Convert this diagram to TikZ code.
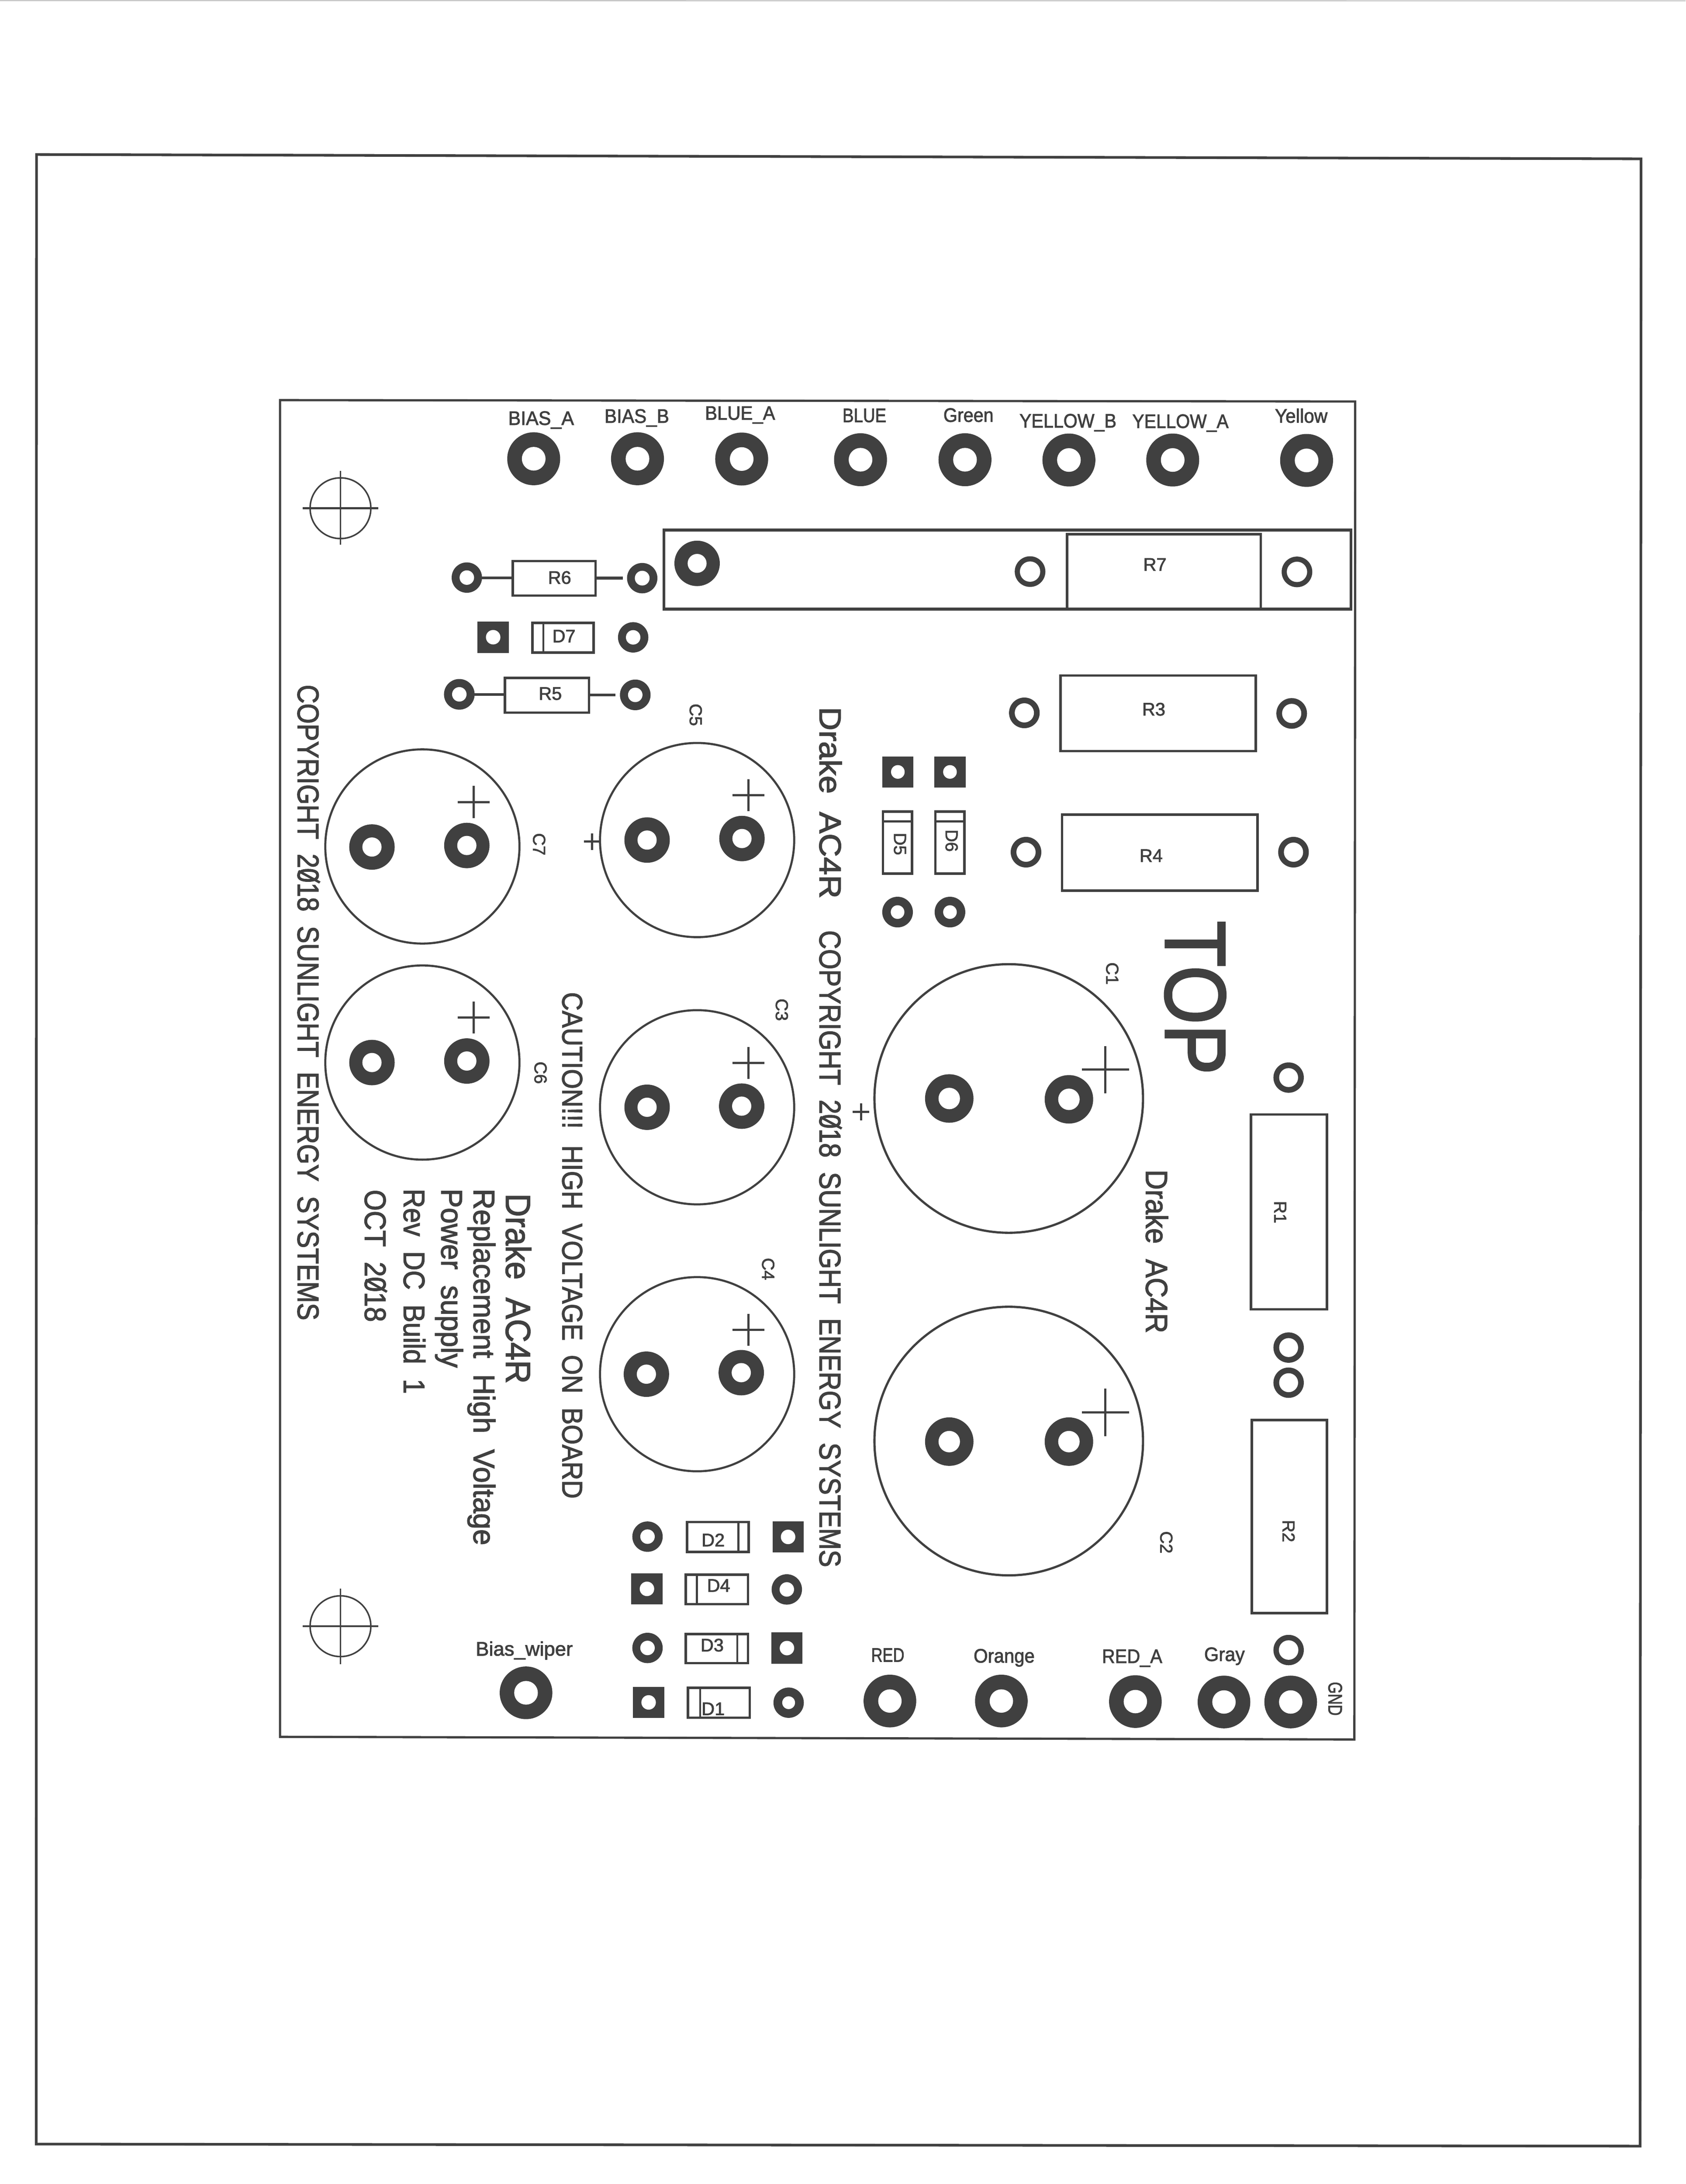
\documentclass[tikz,border=0pt]{standalone}
\usepackage{fontspec}
\usepackage{graphicx}
\setmainfont[WordSpace=2,BoldFont={Liberation Sans},BoldFeatures={FakeBold=2.2}]{Liberation Sans}
\definecolor{ink}{HTML}{404040}
\tikzset{
  lab/.style={inner sep=0pt,outer sep=0pt,text=ink},
  outline/.style={draw=ink,line width=1.8pt},
  thinline/.style={draw=ink,line width=1.4pt},
  lead/.style={draw=ink,line width=2pt}
}
% round pad: name, x, y, outer r, hole r
\newcommand{\padr}[5]{\coordinate (#1) at (#2,#3);
  \fill[ink] (#1) circle (#4pt);
  \fill[white] (#1) circle (#5pt);}
% square pad: name, x, y, hole r
\newcommand{\pads}[4]{\coordinate (#1) at (#2,#3);
  \fill[ink] ($(#1)+(-11.2,-11.2)$) rectangle ($(#1)+(11.2,11.2)$);
  \fill[white] (#1) circle (#4pt);}
% horizontal label: name, x1, x2, baseline y, size, text
\newcommand{\hlab}[6]{\pgfmathsetmacro\LL{#3-#2}%
  \node[lab,anchor=base west] (#1) at (#2,#4) {\fontsize{#5}{#5}\selectfont\bfseries\resizebox{\LL pt}{\height}{#6}};}
% vertical label reading downward: name, baseline x, y1, y2, size, text
\newcommand{\vlab}[6]{\pgfmathsetmacro\LL{#4-#3}%
  \node[lab,anchor=base west,rotate=-90] (#1) at (#2,#3) {\fontsize{#5}{#5}\selectfont\bfseries\resizebox{\LL pt}{\height}{#6}};}
% centred small labels
\newcommand{\clab}[4]{\node[lab,font=\fontsize{13}{13}\selectfont\bfseries] (#1) at (#2,#3) {#4};}
\newcommand{\cvlab}[4]{\node[lab,rotate=-90,font=\fontsize{12.5}{13}\selectfont\bfseries] (#1) at (#2,#3) {#4};}
% plus mark
\newcommand{\plusm}[3]{\draw[thinline,line width=1.6pt] (#1-#3,#2) -- (#1+#3,#2) (#1,#2-#3) -- (#1,#2+#3);}
% slashed zero
\newcommand{\sz}{\makebox[0pt][l]{\hspace*{0.07em}\rotatebox{58}{\rule{0.84em}{0.09em}}}0}
\usetikzlibrary{calc}
\begin{document}
\begin{tikzpicture}[x=1pt,y=-1pt]
\useasboundingbox (0,0) rectangle (1210,1567.7);
\fill[white] (0,0) rectangle (1210,1567.7);
\draw[black!22,line width=0.8pt] (0,0.4) -- (1210,0.6);
% sheet frame
\draw[draw=ink,line width=1.9pt,line join=miter] (26.2,110.9) -- (1178,114) -- (1177.3,1540.5) -- (26,1539) -- cycle;
% board outline
\draw[draw=ink,line width=1.6pt] (201,287.2) -- (972.8,288.2) -- (972.2,1248.6) -- (201,1246.7) -- cycle;
% crosshairs
\draw[thinline,line width=1.1pt] (244.4,364.8) circle (21.8pt);
\draw[thinline,line width=1.1pt] (244.4,338) -- (244.4,391);
\draw[thinline,line width=1.5pt] (217.3,364.8) -- (271.4,364.8);
\draw[thinline,line width=1.1pt] (244.4,1167.3) circle (21.8pt);
\draw[thinline,line width=1.1pt] (244.4,1140.3) -- (244.4,1194.5);
\draw[thinline,line width=1.5pt] (217.3,1167.3) -- (271.4,1167.3);
% top terminals
\padr{pBiasA}{383.1}{329.3}{19}{8.5}
\padr{pBiasB}{457.6}{329.3}{19}{8.5}
\padr{pBlueA}{532.4}{329.5}{19}{8.5}
\padr{pBlue}{617.7}{330}{19}{8.5}
\padr{pGreen}{692.7}{330}{19}{8.5}
\padr{pYelB}{767.3}{330.2}{19}{8.5}
\padr{pYelA}{841.8}{330.2}{19}{8.5}
\padr{pYel}{937.9}{330.5}{19}{8.5}
\hlab{tBiasA}{364.8}{412}{305}{14}{BIAS\_A}
\hlab{tBiasB}{433.9}{480.3}{303.5}{14}{BIAS\_B}
\hlab{tBlueA}{506.1}{556.4}{301.3}{14}{BLUE\_A}
\hlab{tBlue}{604.8}{636.2}{303}{14}{BLUE}
\hlab{tGreen}{677.2}{713.2}{302.8}{14}{Green}
\hlab{tYelB}{731.8}{801.4}{306.9}{14}{YELLOW\_B}
\hlab{tYelA}{812.8}{881.9}{307.2}{14}{YELLOW\_A}
\hlab{tYel}{915.2}{952.9}{303.4}{14}{Yellow}
% R7 block
\draw[outline,line width=2pt] (476.5,380.5) rectangle (969.8,437.2);
\draw[outline] (765.9,383.5) rectangle (905,437.2);
\padr{pR7big}{500.4}{404.4}{16.3}{6.8}
\padr{pR7a}{739.4}{410.3}{11}{7.3}
\padr{pR7b}{931}{410.5}{11}{7.3}
\clab{lR7}{829}{405.2}{R7}
% R6
\coordinate (r6L) at (368.1,414.8);
\coordinate (r6R) at (427.5,415);
\coordinate (r6End) at (447,415);
\coordinate (r6Start) at (335.1,414.8);
\draw[lead] (r6Start) -- (r6L) (r6R) -- (r6End);
\draw[outline] (368.1,402.7) rectangle (427.5,427.5);
\padr{pR6a}{335.1}{414.6}{10.9}{5.2}
\padr{pR6b}{461}{415}{10.9}{5.3}
\clab{lR6}{401.7}{414.6}{R6}
% D7
\pads{pD7a}{354}{457.4}{5.2}
\draw[outline] (382.3,447.2) rectangle (426.2,468.4);
\draw[thinline] (390,447.2) -- (390,468.4);
\clab{lD7}{404.8}{456.6}{D7}
\padr{pD7b}{454.5}{457.5}{10.9}{5.2}
% R5
\coordinate (r5L) at (362.5,498.6);
\coordinate (r5R) at (422.8,498.8);
\coordinate (r5Start) at (329.7,498.6);
\coordinate (r5End) at (441.9,498.8);
\draw[lead] (r5Start) -- (r5L) (r5R) -- (r5End);
\draw[outline] (362.5,486.5) rectangle (422.8,511.5);
\padr{pR5a}{329.7}{498.4}{11}{5.2}
\padr{pR5b}{456}{498.8}{11}{5.2}
\clab{lR5}{395}{497.9}{R5}
% R3 / R4
\draw[outline] (761.2,484.9) rectangle (901.3,539.1);
\padr{pR3a}{735.3}{511.7}{11}{6.9}
\padr{pR3b}{927.2}{512.1}{11}{6.9}
\clab{lR3}{828.2}{509.1}{R3}
\draw[outline] (762.4,584.7) rectangle (902.7,639.3);
\padr{pR4a}{736.5}{611.7}{11}{6.9}
\padr{pR4b}{928.5}{611.7}{11}{6.9}
\clab{lR4}{826.3}{614.2}{R4}
% D5 / D6
\pads{pD5a}{644.5}{554.1}{4.9}
\pads{pD6a}{681.9}{554.1}{4.9}
\draw[outline] (633.8,582.5) rectangle (654.7,627);
\draw[thinline] (633.8,589.6) -- (654.7,589.6);
\draw[outline] (671.4,582.5) rectangle (692.3,627);
\draw[thinline] (671.4,589.6) -- (692.3,589.6);
\cvlab{lD5}{646}{605.8}{D5}
\cvlab{lD6}{683.1}{603.4}{D6}
\padr{pD5b}{644.3}{654.7}{11}{4.9}
\padr{pD6b}{681.9}{654.7}{11}{4.9}
% TOP
\vlab{tTop}{836.7}{661}{771.4}{61.7}{TOP}
% C7, C6
\draw[outline,line width=1.5pt] (303.2,607.6) circle (69.7pt);
\padr{pC7a}{267}{608}{16.3}{6.9}
\padr{pC7b}{335.1}{606.9}{16.3}{6.9}
\plusm{340}{575.7}{11.5}
\cvlab{lC7}{387}{606}{C7}
\draw[outline,line width=1.5pt] (303.2,762.7) circle (69.7pt);
\padr{pC6a}{267}{762.7}{16.3}{6.9}
\padr{pC6b}{335.1}{761.6}{16.3}{6.9}
\plusm{340}{730.4}{11.5}
\cvlab{lC6}{388}{770}{C6}
% C5, C3, C4
\draw[outline,line width=1.5pt] (500.4,603) circle (69.7pt);
\padr{pC5a}{464.5}{603}{16.3}{6.9}
\padr{pC5b}{532.6}{601.9}{16.3}{6.9}
\plusm{537.2}{570.7}{11.5}
\plusm{425.1}{604.1}{6}
\cvlab{lC5}{499.4}{513.1}{C5}
\draw[outline,line width=1.5pt] (500.4,794.8) circle (69.7pt);
\padr{pC3a}{464.5}{794.8}{16.3}{6.9}
\padr{pC3b}{532.4}{794}{16.3}{6.9}
\plusm{537.2}{763}{11.5}
\cvlab{lC3}{561.2}{724.8}{C3}
\draw[outline,line width=1.5pt] (500.4,986.4) circle (69.7pt);
\padr{pC4a}{464}{986.4}{16.3}{6.9}
\padr{pC4b}{532.1}{985.3}{16.3}{6.9}
\plusm{537.2}{954.5}{11.5}
\cvlab{lC4}{551.4}{910.9}{C4}
% C1, C2
\draw[outline,line width=1.6pt] (724.1,788.5) circle (96.4pt);
\padr{pC1a}{681.4}{788.5}{17.4}{7.7}
\padr{pC1b}{767.3}{789.1}{17.4}{7.7}
\plusm{793.5}{767.8}{17}
\plusm{618}{798.1}{6}
\cvlab{lC1}{798.4}{698.8}{C1}
\draw[outline,line width=1.6pt] (724.1,1034.4) circle (96.4pt);
\padr{pC2a}{681.4}{1034.8}{17.4}{7.7}
\padr{pC2b}{767.3}{1034.8}{17.4}{7.7}
\plusm{793.5}{1013.8}{17}
\cvlab{lC2}{837.2}{1107.1}{C2}
% R1, R2
\padr{pR1a}{925}{773.5}{10.9}{6.8}
\draw[outline] (897.9,800) rectangle (952.5,939.8);
\cvlab{lR1}{919}{870.1}{R1}
\padr{pR1b}{925}{967.3}{10.9}{6.8}
\padr{pR2a}{925}{992.5}{10.9}{6.8}
\draw[outline] (898.5,1019.2) rectangle (952.6,1158);
\cvlab{lR2}{925}{1099}{R2}
\padr{pR2b}{925}{1184.4}{10.9}{7}
% bottom terminals
\padr{pRed}{638.8}{1221}{18.9}{8.4}
\padr{pOrange}{718.8}{1221}{18.9}{8.4}
\padr{pRedA}{815}{1221.4}{18.9}{8.4}
\padr{pGray}{878.6}{1221.7}{18.9}{8.4}
\padr{pGnd}{926.5}{1221.7}{18.9}{8.4}
\padr{pWiper}{377.6}{1215.1}{18.9}{8.5}
\hlab{tRed}{625.4}{649.2}{1192.8}{14}{RED}
\hlab{tOrange}{698.9}{742.7}{1193.4}{14}{Orange}
\hlab{tRedA}{791}{834.3}{1193.7}{14}{RED\_A}
\hlab{tGray}{864.4}{893.5}{1192.3}{14}{Gray}
\hlab{tWiper}{341.5}{411.1}{1188.4}{14}{Bias\_wiper}
\vlab{tGnd}{953.6}{1207.3}{1231.5}{14}{GND}
% D2, D4, D3, D1
\padr{pD2a}{464.8}{1103}{10.9}{5.2}
\draw[outline] (493.1,1092.5) rectangle (537.5,1114);
\draw[thinline] (530,1092.5) -- (530,1114);
\clab{lD2}{511.9}{1105.4}{D2}
\pads{pD2b}{565.7}{1103.2}{5.2}
\pads{pD4a}{464.4}{1140.5}{5.2}
\draw[outline] (492.3,1130.4) rectangle (536.9,1151.5);
\draw[thinline] (500.3,1130.4) -- (500.3,1151.5);
\clab{lD4}{515.8}{1138.1}{D4}
\padr{pD4b}{564.8}{1140.9}{10.9}{5.2}
\padr{pD3a}{464.8}{1182.9}{10.9}{5.2}
\draw[outline] (492.3,1172.9) rectangle (536.9,1193.8);
\draw[thinline] (529.2,1172.9) -- (529.2,1193.8);
\clab{lD3}{511.2}{1180.9}{D3}
\pads{pD3b}{564.9}{1183}{5.2}
\pads{pD1a}{465.6}{1222}{5.2}
\draw[outline] (493.9,1211.6) rectangle (538.2,1233);
\draw[thinline] (502.6,1211.6) -- (502.6,1233);
\clab{lD1}{511.9}{1226.6}{D1}
\padr{pD1b}{566.1}{1222.2}{10.9}{4.6}
% running text
\vlab{tCopyL}{213.7}{491.5}{947.7}{21.6}{COPYRIGHT 2\sz18 SUNLIGHT ENERGY SYSTEMS}
\vlab{tDrakeR}{588.3}{507.5}{645}{22}{Drake AC4R}
\vlab{tCopyR}{588.3}{667.8}{1124.9}{21.6}{COPYRIGHT 2\sz18 SUNLIGHT ENERGY SYSTEMS}
\vlab{tDrakeC}{822.6}{839.6}{957}{22}{Drake AC4R}
\vlab{tCaution}{403.7}{712.2}{1075.7}{20.5}{CAUTION!!! HIGH VOLTAGE ON BOARD}
\vlab{tDrakeB}{363.2}{856.7}{993.2}{25}{Drake AC4R}
\vlab{tRepl}{340}{853.3}{1109.2}{21.5}{Replacement High Voltage}
\vlab{tPower}{316.8}{853.3}{981.8}{21.5}{Power supply}
\vlab{tRev}{289.8}{853.3}{1000.5}{21.5}{Rev DC Build 1}
\vlab{tOct}{261.9}{854}{948.9}{21.5}{OCT 2\sz18}
\end{tikzpicture}
\end{document}
